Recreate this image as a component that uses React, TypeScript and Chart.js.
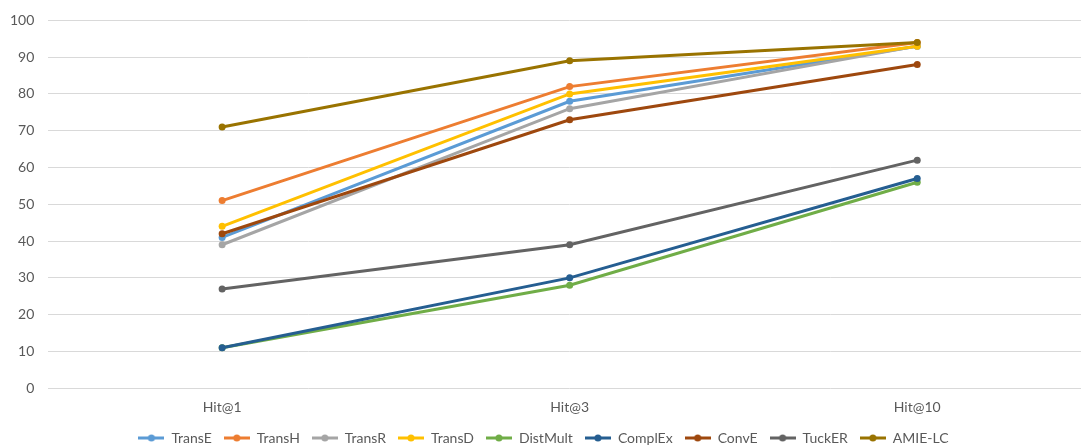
import React, { useEffect, useRef } from "react";
import { Chart, registerables } from "chart.js";

Chart.register(...registerables);

// Categories on the x axis
const categories = ["Hit@1", "Hit@3", "Hit@10"];

// Model names, in legend order
const seriesNames = [
  "TransE",
  "TransH",
  "TransR",
  "TransD",
  "DistMult",
  "ComplEx",
  "ConvE",
  "TuckER",
  "AMIE-LC",
];

// Scores per model at Hit@1, Hit@3, Hit@10
const transE = [41, 78, 93];
const transH = [51, 82, 94];
const transR = [39, 76, 93];
const transD = [44, 80, 93];
const distMult = [11, 28, 56];
const complEx = [11, 30, 57];
const convE = [42, 73, 88];
const tuckER = [27, 39, 62];
const amieLC = [71, 89, 94];

const seriesValues = [transE, transH, transR, transD, distMult, complEx, convE, tuckER, amieLC];

const seriesColors = [
  "#5B9BD5",
  "#ED7D31",
  "#A5A5A5",
  "#FFC000",
  "#70AD47",
  "#255E91",
  "#9E480E",
  "#636363",
  "#997300",
];

// Y axis tick range
const yMin = 0;
const yMax = 100;
const yStep = 10;

const FONT = "Lato";
const TEXT_COLOR = "#595959";

// Small line-with-marker swatch used as the legend symbol
function makeSwatch(color: string): HTMLCanvasElement {
  const c = document.createElement("canvas");
  c.width = 26;
  c.height = 8;
  const ctx = c.getContext("2d")!;
  ctx.strokeStyle = color;
  ctx.lineWidth = 3;
  ctx.beginPath();
  ctx.moveTo(0, 4);
  ctx.lineTo(26, 4);
  ctx.stroke();
  ctx.fillStyle = color;
  ctx.beginPath();
  ctx.arc(13, 4, 3.5, 0, Math.PI * 2);
  ctx.fill();
  return c;
}

export default function App() {
  const canvasRef = useRef<HTMLCanvasElement | null>(null);

  useEffect(() => {
    const canvas = canvasRef.current;
    if (!canvas) return;
    const swatches = seriesColors.map(makeSwatch);

    const chart = new Chart(canvas, {
      type: "line",
      data: {
        labels: categories,
        datasets: seriesNames.map((name, i) => ({
          label: name,
          data: seriesValues[i],
          borderColor: seriesColors[i],
          backgroundColor: seriesColors[i],
          borderWidth: 3,
          pointRadius: 3.5,
          pointBorderWidth: 0,
          pointBackgroundColor: seriesColors[i],
          tension: 0,
          order: seriesNames.length - i,
        })),
      },
      options: {
        animation: false,
        responsive: false,
        maintainAspectRatio: false,
        layout: { padding: { left: -4, right: 9, top: 8, bottom: -7 } },
        plugins: {
          tooltip: { enabled: false },
          legend: {
            position: "bottom",
            labels: {
              usePointStyle: true,
              pointStyleWidth: 26,
              padding: 12,
              color: TEXT_COLOR,
              font: { family: FONT, size: 14 },
              generateLabels: (ch: any) =>
                ch.data.datasets.map((ds: any, i: number) => ({
                  text: ds.label,
                  fillStyle: seriesColors[i],
                  strokeStyle: seriesColors[i],
                  lineWidth: 0,
                  pointStyle: swatches[i],
                  hidden: false,
                  datasetIndex: i,
                  fontColor: TEXT_COLOR,
                })),
            },
          },
        },
        scales: {
          x: {
            offset: true,
            grid: { display: false, drawTicks: false },
            border: { display: false },
            ticks: {
              color: TEXT_COLOR,
              font: { family: FONT, size: 14 },
              padding: 11,
            },
            afterFit: (scale: any) => {
              scale.height -= 8;
            },
          },
          y: {
            min: yMin,
            max: yMax,
            grid: { color: "#D9D9D9", lineWidth: 1, drawTicks: false },
            border: { display: false },
            ticks: {
              stepSize: yStep,
              color: TEXT_COLOR,
              font: { family: FONT, size: 14 },
              padding: 14,
            },
          },
        },
      },
    });
    return () => chart.destroy();
  }, []);

  return (
    <div style={{ position: "fixed", left: 0, top: -2, width: 1100, height: 450, background: "#fff" }}>
      <canvas ref={canvasRef} width={1100} height={450} style={{ width: 1100, height: 450 }} />
    </div>
  );
}
